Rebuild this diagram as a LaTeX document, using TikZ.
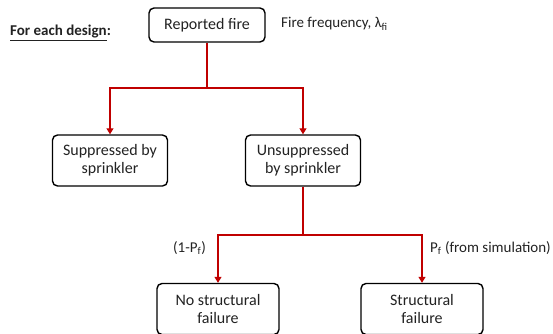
\documentclass[tikz,border=0pt]{standalone}
\usepackage{fontspec}
\setmainfont{Carlito}
\usepackage{tikz}
\usetikzlibrary{positioning,arrows.meta,calc}
\definecolor{cLine}{HTML}{C00000}
\definecolor{cText}{HTML}{222222}
\tikzset{
  evt/.style={rounded corners=5pt,draw=black,line width=1.4pt,align=center,text=cText,
    font=\fontsize{16}{18}\selectfont,inner sep=2pt},
  wide/.style={evt,minimum width=115pt,minimum height=51pt},
  lbl/.style={font=\fontsize{15}{17}\selectfont,text=cText,inner sep=1pt},
  wire/.style={draw=cLine,line width=1.2pt},
  arr/.style={wire,-{Triangle[length=6pt,width=7pt]}}}
\begin{document}
\begin{tikzpicture}[x=1pt,y=-1pt]
\useasboundingbox (0,0) rectangle (553,333);
% events
\node[evt,minimum width=116pt,minimum height=34pt] (fire) at (207,25) {Reported fire};
\node[wide] (supp) at (110,160.5) {Suppressed by\\sprinkler};
\node[wide] (unsupp) at (303,160.5) {Unsuppressed\\by sprinkler};
\node[wide,minimum width=122pt] (nofail) at (218,309) {No structural\\failure};
\node[wide,minimum width=122pt] (fail) at (422,309) {Structural\\failure};
% branches
\coordinate (j1) at (fire.south |- 0,88);
\coordinate (j2) at (unsupp.south |- 0,235);
\draw[wire] (fire.south) -- (j1);
\draw[arr] (j1) -| (supp.north);
\draw[arr] (j1) -| (unsupp.north);
\draw[wire] (unsupp.south) -- (j2);
\draw[arr] (j2) -| (nofail.north);
\draw[arr] (j2) -| (fail.north);
% labels
\node[lbl,anchor=west,font=\fontsize{15}{17}\bfseries] (title) at (9,33) {\underline{For each design}:};
\node[lbl,anchor=west] (freq) at (280,24) {Fire frequency, λ\textsubscript{fi}};
\node[lbl,anchor=west] (pno) at (172,248) {(1-P\textsubscript{f})};
\node[lbl,anchor=west] (pyes) at (429,248) {P\textsubscript{f} (from simulation)};
\end{tikzpicture}
\end{document}
